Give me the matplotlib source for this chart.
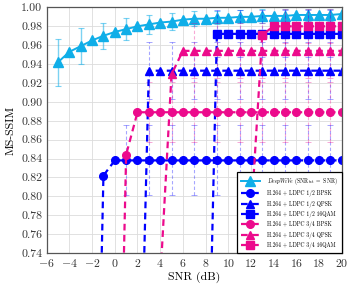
"""
MS-SSIM versus SNR: DeepWiVe against H.264 + LDPC baselines.
"""
import matplotlib
matplotlib.use("Agg")
import matplotlib.pyplot as plt

plt.rcParams["font.family"] = "cmr10"
plt.rcParams["mathtext.fontset"] = "cm"
plt.rcParams["axes.formatter.use_mathtext"] = True

# DeepWiVe (SNR_tst = SNR)
deep_snr = [-5, -4, -3, -2, -1, 0, 1, 2, 3, 4, 5, 6, 7, 8, 9, 10,
            11, 12, 13, 14, 15, 16, 17, 18, 19, 20]
deep_ssim = [0.942, 0.953, 0.959, 0.965, 0.970, 0.974, 0.977, 0.980, 0.982,
             0.984, 0.985, 0.987, 0.988, 0.988, 0.989, 0.989, 0.990, 0.990,
             0.991, 0.991, 0.991, 0.992, 0.992, 0.992, 0.992, 0.993]
deep_err_snr = [-5, -3, -1, 1, 3, 5, 7, 9, 11, 13, 15, 17, 19]
deep_err_val = [0.942, 0.959, 0.970, 0.977, 0.982, 0.985, 0.988, 0.989,
                0.990, 0.991, 0.991, 0.992, 0.992]
deep_err = [0.025, 0.019, 0.014, 0.012, 0.010, 0.009, 0.008, 0.007,
            0.007, 0.007, 0.007, 0.006, 0.006]

# H.264 + LDPC 1/2 BPSK
bpsk12_snr = [-2, -1, 0, 1, 2, 3, 4, 5, 6, 7, 8, 9, 10, 11, 12, 13, 14,
              15, 16, 17, 18, 19, 20]
bpsk12_ssim = [0.27, 0.822, 0.838, 0.838, 0.838, 0.838, 0.838, 0.838,
               0.838, 0.838, 0.838, 0.838, 0.838, 0.838, 0.838, 0.838,
               0.838, 0.838, 0.838, 0.838, 0.838, 0.838, 0.838]
# H.264 + LDPC 1/2 QPSK
qpsk12_snr = [2, 3, 4, 5, 6, 7, 8, 9, 10, 11, 12, 13, 14, 15, 16, 17,
              18, 19, 20]
qpsk12_ssim = [0.45, 0.933, 0.933, 0.933, 0.933, 0.933, 0.933, 0.933,
               0.933, 0.933, 0.933, 0.933, 0.933, 0.933, 0.933, 0.933,
               0.933, 0.933, 0.933]
# H.264 + LDPC 1/2 16QAM
qam12_snr = [8, 9, 10, 11, 12, 13, 14, 15, 16, 17, 18, 19, 20]
qam12_ssim = [0.45, 0.972, 0.972, 0.972, 0.972, 0.972, 0.972, 0.972,
              0.972, 0.972, 0.972, 0.972, 0.972]
# H.264 + LDPC 3/4 BPSK
bpsk34_snr = [0, 1, 2, 3, 4, 5, 6, 7, 8, 9, 10, 11, 12, 13, 14, 15, 16,
              17, 18, 19, 20]
bpsk34_ssim = [0.30, 0.844, 0.889, 0.889, 0.889, 0.889, 0.889, 0.889,
               0.889, 0.889, 0.889, 0.889, 0.889, 0.889, 0.889, 0.889,
               0.889, 0.889, 0.889, 0.889, 0.889]
# H.264 + LDPC 3/4 QPSK
qpsk34_snr = [4, 5, 6, 7, 8, 9, 10, 11, 12, 13, 14, 15, 16, 17, 18, 19, 20]
qpsk34_ssim = [0.71, 0.929, 0.954, 0.954, 0.954, 0.954, 0.954, 0.954,
               0.954, 0.954, 0.954, 0.954, 0.954, 0.954, 0.954, 0.954,
               0.954]
# H.264 + LDPC 3/4 16QAM
qam34_snr = [12, 13, 14, 15, 16, 17, 18, 19, 20]
qam34_ssim = [0.775, 0.971, 0.980, 0.980, 0.980, 0.980, 0.980, 0.980,
              0.980]

# error bars of the baselines (odd SNR only)
bpsk12_err_snr = [1, 3, 5, 7, 9, 11, 13, 15, 17, 19]
bpsk12_err = 0.037
qpsk12_err_snr = [3, 5, 7, 9, 11, 13, 15, 17, 19]
qpsk12_err = 0.030
qam12_err_snr = [9, 11, 13, 15, 17, 19]
qam12_err = 0.025
bpsk34_err_snr = [3, 5, 7, 9, 11, 13, 15, 17, 19]
bpsk34_err = 0.032
qpsk34_err_snr = [7, 9, 11, 13, 15, 17, 19]
qpsk34_err = 0.029
qam34_err_snr = [15, 17, 19]
qam34_err = 0.018

CYAN = "#10aee8"
BLUE = "#0000ff"
PINK = "#ec0a8c"

fig = plt.figure(figsize=(3.52, 2.85), dpi=100)
ax = fig.add_axes([0.1327, 0.1123, 0.838, 0.8617])

ax.grid(True, color="#dcdcdc", linewidth=0.6)
ax.set_axisbelow(True)

# DeepWiVe
ax.errorbar(deep_err_snr, deep_err_val, yerr=deep_err, fmt="none",
            ecolor=CYAN, alpha=0.55, elinewidth=1.0, capsize=2.5, capthick=0.8)
ax.plot(deep_snr, deep_ssim, color=CYAN, marker="^", markersize=6.5,
        linewidth=1.4, label=r"$\mathit{DeepWiVe}$ (SNR$_{\rm tst}$ $=$ SNR)")

baselines = [
    (bpsk12_snr, bpsk12_ssim, bpsk12_err_snr, bpsk12_err, BLUE, "o",
     "H.264 + LDPC 1/2 BPSK"),
    (qpsk12_snr, qpsk12_ssim, qpsk12_err_snr, qpsk12_err, BLUE, "^",
     "H.264 + LDPC 1/2 QPSK"),
    (qam12_snr, qam12_ssim, qam12_err_snr, qam12_err, BLUE, "s",
     "H.264 + LDPC 1/2 16QAM"),
    (bpsk34_snr, bpsk34_ssim, bpsk34_err_snr, bpsk34_err, PINK, "o",
     "H.264 + LDPC 3/4 BPSK"),
    (qpsk34_snr, qpsk34_ssim, qpsk34_err_snr, qpsk34_err, PINK, "^",
     "H.264 + LDPC 3/4 QPSK"),
    (qam34_snr, qam34_ssim, qam34_err_snr, qam34_err, PINK, "s",
     "H.264 + LDPC 3/4 16QAM"),
]

for snr, ssim, err_snr, err, color, marker, label in baselines:
    lookup = dict(zip(snr, ssim))
    err_val = [lookup[s] for s in err_snr]
    _, _, bars = ax.errorbar(err_snr, err_val, yerr=err, fmt="none",
                             ecolor=color, alpha=0.35, elinewidth=0.8,
                             capsize=2, capthick=0.7)
    for b in bars:
        b.set_linestyle((0, (3, 2)))

for snr, ssim, err_snr, err, color, marker, label in baselines:
    ax.plot(snr, ssim, color=color, marker=marker, markersize=5.5,
            linewidth=1.6, linestyle=(0, (3, 2)), label=label)

ax.set_xlim(-6, 20)
ax.set_ylim(0.74, 1.0)
ax.set_xticks([-6, -4, -2, 0, 2, 4, 6, 8, 10, 12, 14, 16, 18, 20])
ax.set_yticks([0.74, 0.76, 0.78, 0.80, 0.82, 0.84, 0.86, 0.88, 0.90,
               0.92, 0.94, 0.96, 0.98, 1.00])
ax.set_yticklabels(["%.2f" % v for v in ax.get_yticks()])
ax.tick_params(labelsize=8.5, length=0, pad=3, colors="#333333")
for spine in ax.spines.values():
    spine.set_color("#555555")
    spine.set_linewidth(0.9)

ax.set_xlabel("SNR (dB)", fontsize=8.5, labelpad=2)
ax.set_ylabel("MS-SSIM", fontsize=8.5, labelpad=4)

leg = ax.legend(loc="lower right", fontsize=4.0, borderaxespad=0,
                fancybox=False, framealpha=1, edgecolor="black",
                handlelength=3.4, handletextpad=1.3, labelspacing=0.6,
                borderpad=0.7, markerscale=1.0)
leg.get_frame().set_linewidth(0.9)

fig.savefig("out.png", dpi=100)
